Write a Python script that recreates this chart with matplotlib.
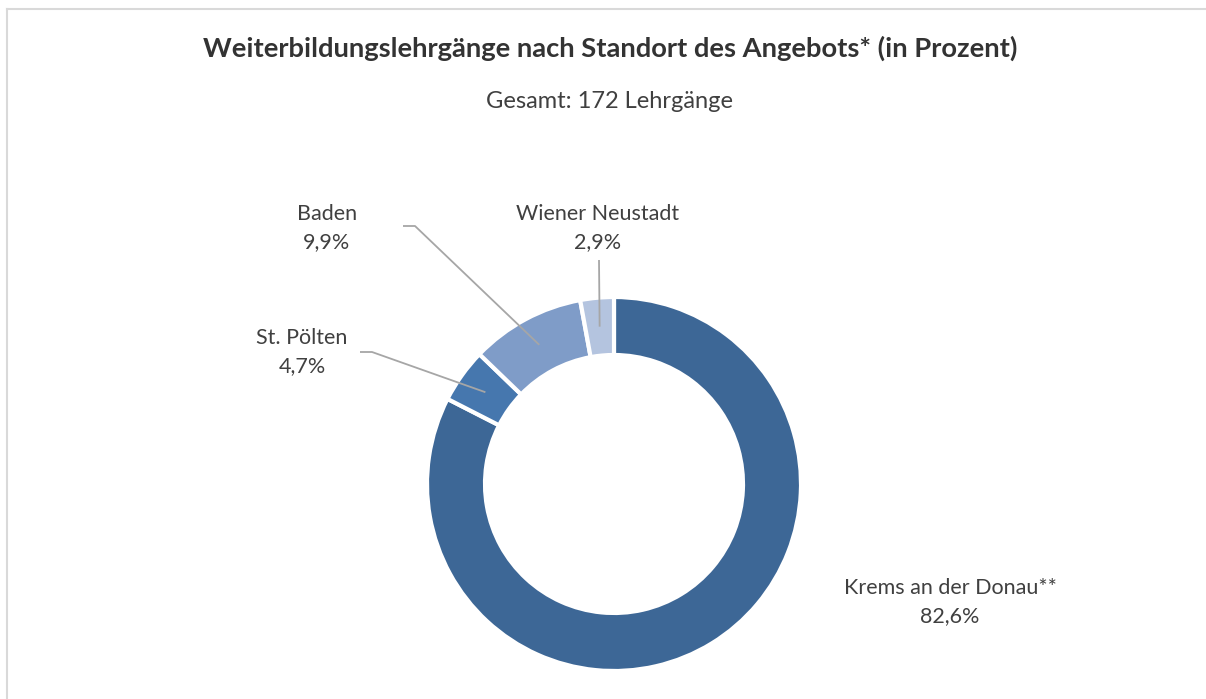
import numpy as np
import matplotlib
matplotlib.use("Agg")
import matplotlib.pyplot as plt
from matplotlib.lines import Line2D

plt.rcParams['font.family'] = ['Lato', 'DejaVu Sans']

categories = ["Krems an der Donau**", "St. Pölten", "Baden", "Wiener Neustadt"]
values = [82.6, 4.7, 9.9, 2.9]
value_labels = ["82,6%", "4,7%", "9,9%", "2,9%"]
colors = ["#3D6796", "#4677AE", "#7F9CC8", "#B4C4DF"]
title = "Weiterbildungslehrgänge nach Standort des Angebots* (in Prozent)"
subtitle = "Gesamt: 172 Lehrgänge"

W, H = 1206, 699
fig = plt.figure(figsize=(W / 100, H / 100), dpi=100)
ax = fig.add_axes([0, 0, 1, 1])
ax.axis('off')

cx, cy = 614, H - 484
R = 187
width = 58
wedges, _ = ax.pie(values, colors=colors, startangle=90, counterclock=False,
                   center=(cx, cy), radius=R,
                   wedgeprops=dict(width=width, edgecolor='white', linewidth=3))
ax.set_xlim(0, W)
ax.set_ylim(0, H)
ax.set_aspect('equal')

# label positions (pixel layout, top-left origin)
label_pos = {
    "Krems an der Donau**": (950, 602),
    "St. Pölten": (302, 352),
    "Baden": (327, 228),
    "Wiener Neustadt": (598, 228),
}
# leader line start (pixel layout)
leader_start = {
    "St. Pölten": [(360, 352), (372, 352)],
    "Baden": [(403, 226), (415, 226)],
    "Wiener Neustadt": [(599, 260)],
}

for w, cat, vl in zip(wedges, categories, value_labels):
    lx, ly = label_pos[cat]
    ax.text(lx, H - ly, f"{cat}\n{vl}", ha='center', va='center',
            fontsize=15.5, color='#404040', linespacing=1.52)
    if cat in leader_start:
        mid = np.deg2rad((w.theta1 + w.theta2) / 2)
        rm = R - width / 2
        ex, ey = cx + rm * np.cos(mid), cy + rm * np.sin(mid)
        pts = leader_start[cat]
        xs = [p[0] for p in pts] + [ex]
        ys = [H - p[1] for p in pts] + [ey]
        ax.plot(xs, ys, color='#A6A6A6', lw=1.3, solid_capstyle='butt')

fig.text(610 / W, 1 - 48 / H, title, ha='center', va='center',
         fontsize=19.7, fontweight='bold', color='#333333')
fig.text(610 / W, 1 - 102 / H, subtitle, ha='center', va='center',
         fontsize=17, color='#404040')

# chart frame (light gray border, left and top visible)
fig.add_artist(Line2D([6.5 / W, 6.5 / W], [0, 1 - 8.5 / H], transform=fig.transFigure,
                      color='#D9D9D9', lw=1.5))
fig.add_artist(Line2D([6.5 / W, 1], [1 - 8.5 / H, 1 - 8.5 / H], transform=fig.transFigure,
                      color='#D9D9D9', lw=1.5))

fig.savefig("out.png", dpi=100, facecolor='white')
